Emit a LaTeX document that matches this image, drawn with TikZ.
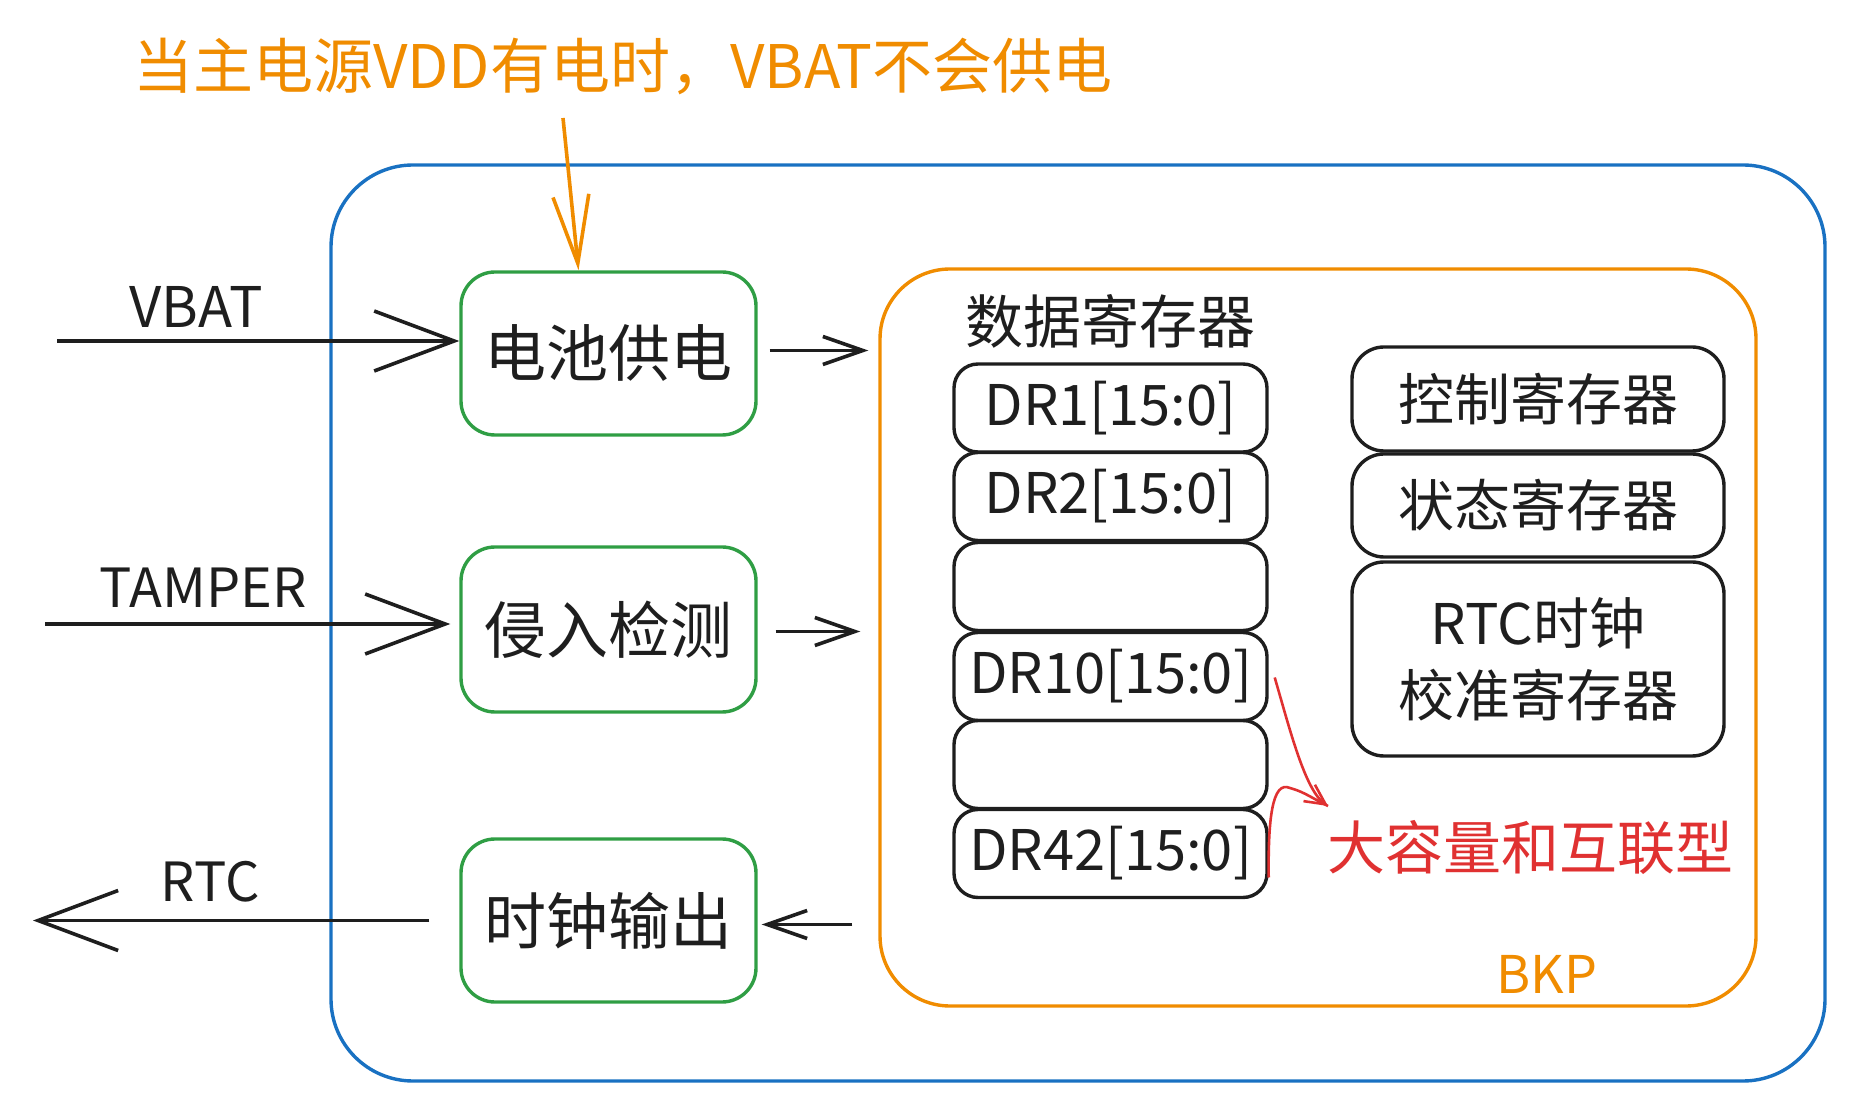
\documentclass[tikz,border=0pt]{standalone}
\usepackage{fontspec}
\setmainfont{Noto Sans CJK SC}
\usetikzlibrary{arrows.meta}
\definecolor{cblue}{HTML}{1971C2}
\definecolor{corange}{HTML}{F08C00}
\definecolor{cgreen}{HTML}{2F9E44}
\definecolor{cred}{HTML}{E03131}
\definecolor{cblack}{HTML}{1E1E1E}
\tikzset{
  greenbox/.style={draw=cgreen, line width=1.7pt, rounded corners=17pt, minimum width=147.5pt, minimum height=81.5pt, font=\fontsize{31}{36}\selectfont, text=cblack},
  regbox/.style={draw=cblack, line width=1.7pt, rounded corners=12pt, minimum width=156.5pt, minimum height=44pt, font=\fontsize{28}{32}\selectfont, text=cblack},
  ctlbox/.style={draw=cblack, line width=1.7pt, rounded corners=16pt, minimum width=186pt, font=\fontsize{28}{36}\selectfont, text=cblack, align=center},
  lbl/.style={font=\fontsize{27}{30}\selectfont, text=cblack},
  bigarrow/.style={draw=cblack, line width=1.8pt, -{Straight Barb[length=40pt, width=30pt, line width=1.8pt]}},
  smallarrow/.style={draw=cblack, line width=1.8pt, -{Straight Barb[length=20pt, width=14pt, line width=1.8pt]}},
}
\begin{document}
\begin{tikzpicture}[x=0.5pt, y=-0.5pt]
\useasboundingbox (0,0) rectangle (1852,1111);
% containers
\node[draw=cblue, line width=1.7pt, rounded corners=41pt, minimum width=747pt, minimum height=458pt] (outer) at (1078,623) {};
\node[draw=corange, line width=1.7pt, rounded corners=35pt, minimum width=438pt, minimum height=368.5pt] (bkp) at (1318,637.5) {};
% title
\node[font=\fontsize{30}{34}\selectfont, text=corange] (title) at (623,67) {当主电源VDD有电时，VBAT不会供电};
\coordinate (otop) at (563,118);
% green boxes
\node[greenbox] (b1) at (608.5,353.5) {电池供电};
\node[greenbox, minimum height=82.5pt] (b2) at (608.5,629.5) {侵入检测};
\node[greenbox] (b3) at (608.5,920.5) {时钟输出};
% data registers
\node[font=\fontsize{29}{32}\selectfont, text=cblack] (drt) at (1110,321) {数据寄存器};
\node[regbox] (dr1) at (1110.5,408) {DR1[15:0]};
\node[regbox] (dr2) at (1110.5,496.5) {DR2[15:0]};
\node[regbox] (drb1) at (1110.5,586.5) {};
\node[regbox] (dr10) at (1110.5,676.5) {DR10[15:0]};
\node[regbox] (drb2) at (1110.5,764.5) {};
\node[regbox] (dr42) at (1110.5,853.5) {DR42[15:0]};
% control registers
\node[ctlbox, minimum height=52pt] (ctl) at (1538,399) {控制寄存器};
\node[ctlbox, minimum height=51.5pt] (sta) at (1538,505.5) {状态寄存器};
\node[ctlbox, minimum height=97pt] (cal) at (1538,659) {RTC时钟\\校准寄存器};
% labels
\node[lbl, font=\fontsize{28}{30}\selectfont] (lvbat) at (196,307) {VBAT};
\node[lbl, font=\fontsize{27}{30}\selectfont] (ltamper) at (203,588) {TAMPER};
\node[lbl, font=\fontsize{27}{30}\selectfont] (lrtc) at (210,882) {RTC};
\node[font=\fontsize{26}{30}\selectfont, text=corange] (lbkp) at (1547,974) {BKP};
\node[font=\fontsize{29}{32}\selectfont, text=cred] (lbig) at (1530,847) {大容量和互联型};
% free ends
\coordinate (vin) at (57,341);
\coordinate (tin) at (45,624);
\coordinate (rtcend) at (33,922);
\coordinate (redtip) at (1328,806);
% connectors
\draw[bigarrow] (vin) -- (vin -| b1.west);
\draw[bigarrow, shorten >=4.5pt] (tin) -- (tin -| b2.west);
\draw[bigarrow, shorten <=15pt] (b3.west) -- (b3.west -| rtcend);
\draw[smallarrow, shorten <=6pt, shorten >=5pt] ([yshift=1.5pt]b1.east) -- ([yshift=1.5pt]b1.east -| bkp.west);
\draw[smallarrow, shorten <=9pt, shorten >=9pt] ([yshift=-1pt]b2.east) -- ([yshift=-1pt]b2.east -| bkp.west);
\draw[smallarrow, shorten <=13pt, shorten >=2pt] ([yshift=-2pt]b3.east -| bkp.west) -- ([yshift=-2pt]b3.east);
\draw[corange, line width=1.8pt, -{Straight Barb[length=34pt, width=18pt, line width=1.8pt]}] (otop) -- ([xshift=-15pt]b1.north);
\draw[cred, line width=1.3pt, -{Straight Barb[length=10pt, width=10pt, line width=1.3pt]}] ([xshift=3pt,yshift=-0.5pt]dr10.east) .. controls (1290,730) and (1305,790) .. (redtip);
\draw[cred, line width=1.3pt] ([yshift=-12pt]dr42.east) .. controls (1268,820) and (1272,780) .. (1290,788) .. controls (1305,792) and (1315,800) .. (redtip);
\end{tikzpicture}
\end{document}
